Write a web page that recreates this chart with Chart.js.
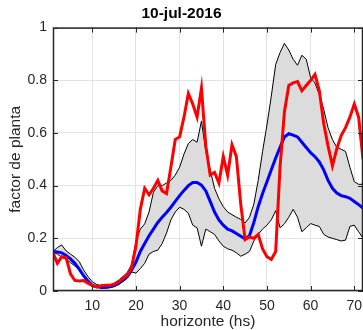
<!DOCTYPE html>
<html lang="es">
<head>
<meta charset="utf-8">
<title>10-jul-2016</title>
<script src="https://cdn.jsdelivr.net/npm/chart.js@4.4.1/dist/chart.umd.min.js"></script>
<style>
  html, body { margin:0; padding:0; background:#fff; }
  #wrap { width:363px; height:330px; }
</style>
</head>
<body>
<div id="wrap"><canvas id="grafico" width="363" height="330"></canvas></div>
<script>
// datos (horizonte 1..72 hs)
const horas = [1,2,3,4,5,6,7,8,9,10,11,12,13,14,15,16,17,18,19,20,21,22,23,24,25,26,27,28,29,30,31,32,33,34,35,36,
               37,38,39,40,41,42,43,44,45,46,47,48,49,50,51,52,53,54,55,56,57,58,59,60,61,62,63,64,65,66,67,68,69,70,71,72];

const real = [0.145,0.105,0.13,0.127,0.065,0.04,0.038,0.04,0.03,0.02,
              0.015,0.02,0.022,0.022,0.025,0.035,0.048,0.06,0.09,0.17,
              0.31,0.39,0.365,0.39,0.42,0.38,0.37,0.47,0.575,0.585,
              0.66,0.75,0.71,0.66,0.77,0.55,0.44,0.45,0.41,0.51,
              0.44,0.555,0.51,0.33,0.195,0.205,0.2,0.215,0.16,0.13,
              0.12,0.15,0.47,0.68,0.78,0.79,0.795,0.76,0.78,0.8,
              0.822,0.76,0.636,0.55,0.475,0.54,0.59,0.62,0.66,0.71,
              0.66,0.5];

const media = [0.15,0.148,0.145,0.135,0.122,0.105,0.083,0.058,0.038,0.022,
               0.016,0.015,0.015,0.017,0.022,0.03,0.042,0.055,0.08,0.11,
               0.15,0.18,0.21,0.235,0.26,0.28,0.298,0.318,0.34,0.362,
               0.382,0.4,0.412,0.412,0.402,0.38,0.34,0.3,0.27,0.25,
               0.235,0.228,0.218,0.208,0.198,0.21,0.26,0.32,0.37,0.415,
               0.46,0.505,0.545,0.585,0.597,0.592,0.585,0.565,0.545,0.525,
               0.51,0.49,0.46,0.42,0.39,0.372,0.362,0.358,0.352,0.34,
               0.328,0.315];

const bandaSup = [0.15,0.165,0.175,0.152,0.14,0.128,0.112,0.08,0.055,0.035,
                  0.025,0.02,0.02,0.022,0.03,0.04,0.055,0.07,0.1,0.19,
                  0.235,0.255,0.3,0.375,0.4,0.4,0.41,0.42,0.44,0.47,
                  0.52,0.56,0.575,0.565,0.645,0.53,0.46,0.39,0.35,0.32,
                  0.3,0.29,0.28,0.272,0.258,0.28,0.33,0.42,0.53,0.63,
                  0.74,0.86,0.905,0.94,0.915,0.88,0.857,0.895,0.88,0.81,
                  0.79,0.745,0.69,0.62,0.575,0.545,0.538,0.53,0.47,0.415,
                  0.405,0.405];

const bandaInf = [0.148,0.14,0.128,0.12,0.108,0.095,0.08,0.06,0.038,0.022,
                  0.015,0.01,0.01,0.012,0.016,0.024,0.035,0.048,0.072,0.068,
                  0.085,0.105,0.14,0.15,0.155,0.18,0.22,0.27,0.3,0.318,
                  0.31,0.295,0.25,0.24,0.17,0.235,0.225,0.215,0.19,0.17,
                  0.16,0.155,0.145,0.132,0.14,0.15,0.19,0.215,0.235,0.25,
                  0.27,0.305,0.24,0.255,0.28,0.31,0.28,0.225,0.24,0.256,
                  0.25,0.245,0.215,0.205,0.2,0.195,0.19,0.193,0.245,0.25,
                  0.225,0.2];

const ticksX = [10,20,30,40,50,60,70];
const ticksY = [0,0.2,0.4,0.6,0.8,1];

const TXT = '#262626';
Chart.defaults.font.family = "'Liberation Sans', Arial, sans-serif";

// caja y marcas hacia adentro (estilo matlab)
const marco = {
    id: 'marco',
    afterDatasetsDraw(chart){
        const {ctx, chartArea:a, scales:{x, y}} = chart;
        ctx.save();
        ctx.strokeStyle = TXT;
        ctx.lineWidth = 1;
        ctx.beginPath();
        ticksX.forEach(v=>{
            const px = Math.round(x.getPixelForValue(v)) + 0.5;
            ctx.moveTo(px, a.bottom); ctx.lineTo(px, a.bottom - 5);
            ctx.moveTo(px, a.top); ctx.lineTo(px, a.top + 5);
        });
        ticksY.forEach(v=>{
            const py = Math.round(y.getPixelForValue(v)) + 0.5;
            ctx.moveTo(a.left, py); ctx.lineTo(a.left + 5, py);
            ctx.moveTo(a.right, py); ctx.lineTo(a.right - 5, py);
        });
        ctx.stroke();
        ctx.lineWidth = 1.5;
        ctx.strokeRect(a.left + 0.5, a.top + 0.5, a.right - a.left - 1, a.bottom - a.top - 1);
        ctx.restore();
    }
};

new Chart(document.getElementById('grafico'), {
    type: 'line',
    data: {
        labels: horas,
        datasets: [
            {label:'real', data: real, borderColor:'#ff0000', borderWidth:3, pointRadius:0, fill:false},
            {label:'media', data: media, borderColor:'#0000ff', borderWidth:3, pointRadius:0, fill:false},
            {label:'sup', data: bandaSup, borderColor:'#000000', borderWidth:1, pointRadius:0, fill:false},
            {label:'inf', data: bandaInf, borderColor:'#000000', borderWidth:1, pointRadius:0,
             fill:'-1', backgroundColor:'#dcdcdc'}
        ]
    },
    options: {
        responsive: false,
        animation: false,
        layout: { padding: {left:0, right:0, top:0, bottom:0} },
        plugins: {
            legend: { display:false },
            tooltip: { enabled:false },
            title: {
                display: true,
                text: '10-jul-2016',
                color: '#000000',
                font: { size:15.5, weight:'bold' },
                padding: { top:4, bottom:5 }
            }
        },
        scales: {
            x: {
                type: 'linear', min: 1, max: 72,
                afterBuildTicks: s=>{ s.ticks = ticksX.map(v=>({value:v})); },
                afterFit: s=>{ s.height = 39; s.paddingLeft = 0; s.paddingRight = 0; },
                grid: { color:'#e3e3e3', drawTicks:false },
                border: { display:false },
                ticks: { color:TXT, font:{size:14}, padding:7, maxRotation:0, autoSkip:false },
                title: { display:true, text:'horizonte (hs)', color:TXT, font:{size:15.5}, padding:{top:0, bottom:-1} }
            },
            y: {
                min: 0, max: 1,
                afterBuildTicks: s=>{ s.ticks = ticksY.map(v=>({value:v})); },
                afterFit: s=>{ s.width = 53; s.paddingTop = 0; s.paddingBottom = 0; },
                grid: { color:'#e3e3e3', drawTicks:false },
                border: { display:false },
                ticks: { color:TXT, font:{size:14}, padding:6, callback: v=>String(Math.round(v*10)/10) },
                title: { display:true, text:'factor de planta', color:TXT, font:{size:15.5}, padding:{top:6, bottom:0} }
            }
        }
    },
    plugins: [marco]
});
</script>
</body>
</html>
